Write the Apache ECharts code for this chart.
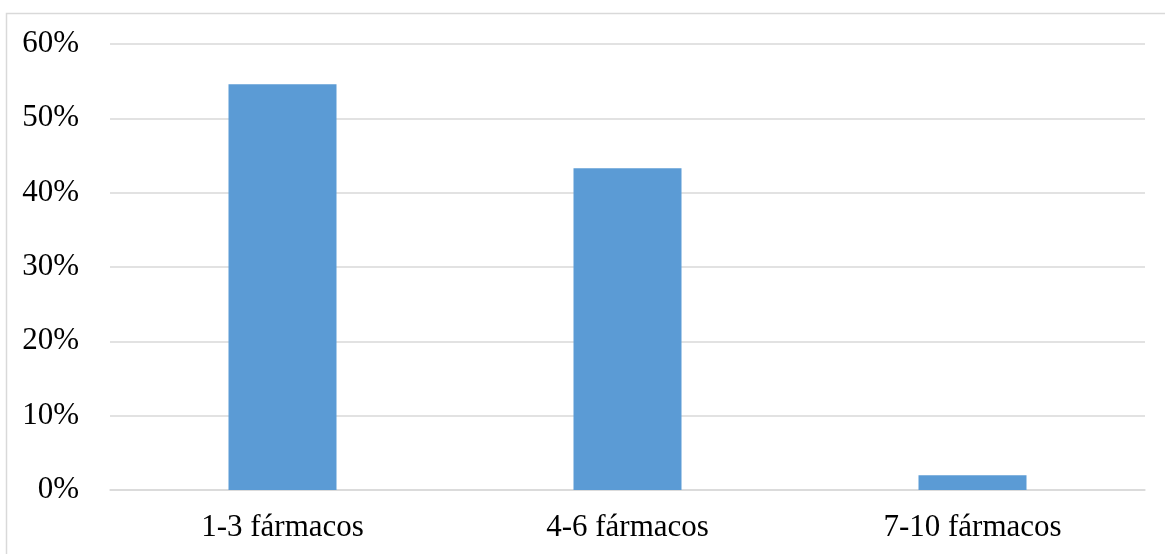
<!DOCTYPE html>
<html>
<head>
<meta charset="utf-8">
<style>
html,body{margin:0;padding:0;background:#fff;}
#c{width:1165px;height:554px;}
</style>
<script src="https://cdn.jsdelivr.net/npm/echarts@6/dist/echarts.min.js"></script>
</head>
<body>
<div id="c"></div>
<script>
const categories = ['1-3 fármacos', '4-6 fármacos', '7-10 fármacos'];
const values = [54.6, 43.3, 2.0];
const yTicks = { min: 0, max: 60, interval: 10 };

const chart = echarts.init(document.getElementById('c'), null, { renderer: 'canvas' });
const font = '"Liberation Serif", "Times New Roman", serif';
chart.setOption({
  animation: false,
  graphic: [{
    type: 'rect',
    shape: { x: 6.5, y: 13.5, width: 1300, height: 700 },
    style: { fill: 'none', stroke: '#d9d9d9', lineWidth: 1.5 },
    silent: true
  }],
  grid: { left: 110, right: 20, top: 44, bottom: 64 },
  xAxis: {
    type: 'category',
    data: categories,
    axisLine: { show: true, lineStyle: { color: '#d9d9d9', width: 1.5 } },
    axisTick: { show: false },
    axisLabel: { color: '#000', fontFamily: font, fontSize: 31, margin: 22 }
  },
  yAxis: {
    type: 'value',
    min: yTicks.min, max: yTicks.max, interval: yTicks.interval,
    axisLine: { show: false },
    axisTick: { show: false },
    splitLine: { lineStyle: { color: '#d9d9d9', width: 1.5 } },
    axisLabel: { color: '#000', fontFamily: font, fontSize: 31, margin: 31, formatter: '{value}%' }
  },
  series: [{
    type: 'bar',
    data: values,
    barWidth: 108,
    itemStyle: { color: '#5b9bd5' }
  }]
});
</script>
</body>
</html>
